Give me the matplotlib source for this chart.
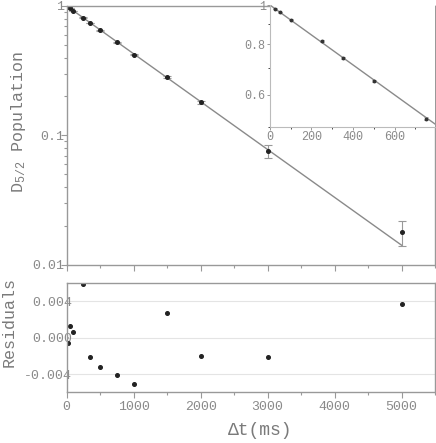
import numpy as np
import matplotlib.pyplot as plt
from matplotlib.ticker import MultipleLocator, FixedLocator, NullFormatter

plt.rcParams['font.family'] = ['Liberation Mono', 'DejaVu Sans Mono']
plt.rcParams['mathtext.default'] = 'regular'

# data
delay_ms = [25, 50, 100, 250, 350, 500, 750, 1000, 1500, 2000, 3000, 5000]
population = [0.9783, 0.9596, 0.9190, 0.8142, 0.7403, 0.6502, 0.5241,
              0.4219, 0.2817, 0.1803, 0.0757, 0.0179]
pop_err = [0.003, 0.003, 0.003, 0.004, 0.004, 0.004, 0.005,
           0.004, 0.004, 0.004, 0.009, 0.0038]
residuals = [-0.0006, 0.0013, 0.0006, 0.0059, -0.0021, -0.0032, -0.0041,
             -0.0051, 0.0027, -0.0020, -0.0021, 0.0037]
tau_fit = 1175.0  # ms, fitted lifetime

gray = '#8a8a8a'
lab_gray = '#7a7a7a'

fig = plt.figure(figsize=(4.36, 4.43), dpi=100)
ax = fig.add_axes([0.153, 0.402, 0.845, 0.5845])
axr = fig.add_axes([0.153, 0.1145, 0.845, 0.2465])
axi = fig.add_axes([0.619, 0.7133, 0.379, 0.2754])

t_fit = np.linspace(0, 5000, 400)

# main panel
ax.plot(t_fit, np.exp(-t_fit / tau_fit), color=gray, lw=1.0)
ax.errorbar(delay_ms, population, yerr=pop_err, fmt='o', ms=2.6, color='#222222',
            ecolor='#999999', elinewidth=0.8, capsize=3, capthick=0.8)
ax.set_yscale('log')
ax.set_ylim(0.01, 1)
ax.set_xlim(0, 5500)
ax.xaxis.set_major_locator(MultipleLocator(1000))
ax.xaxis.set_minor_locator(MultipleLocator(500))
ax.xaxis.set_major_formatter(NullFormatter())
ax.set_yticks([0.01, 0.1, 1])
ax.set_yticklabels(['0.01', '0.1', '1'])
ax.set_ylabel('D$_{5/2}$ Population', fontsize=12, color=lab_gray)
ax.yaxis.set_label_coords(-0.105, 0.55)

# residuals panel
axr.plot(delay_ms, residuals, 'o', ms=2.6, color='#222222')
axr.set_xlim(0, 5500)
axr.set_ylim(-0.006, 0.006)
axr.set_yticks([-0.004, 0.0, 0.004])
axr.set_yticklabels(['-0.004', '0.000', '0.004'])
axr.grid(axis='y', color='#e4e4e4', lw=0.8)
axr.xaxis.set_major_locator(MultipleLocator(1000))
axr.xaxis.set_minor_locator(MultipleLocator(500))
axr.set_ylabel('Residuals', fontsize=12, color=lab_gray)
axr.yaxis.set_label_coords(-0.135, 0.64)
axr.set_xlabel('Δt(ms)', fontsize=13, color=lab_gray)
axr.xaxis.set_label_coords(0.525, -0.27)

# inset
t_in = np.linspace(0, 800, 100)
axi.plot(t_in, np.exp(-t_in / tau_fit), color=gray, lw=1.0)
axi.errorbar(delay_ms, population, yerr=pop_err, fmt='o', ms=1.8, color='#333333',
             ecolor='#999999', elinewidth=0.7, capsize=1.5, capthick=0.7)
axi.set_yscale('log')
axi.set_xlim(0, 795)
axi.set_ylim(0.5, 1.0)
axi.xaxis.set_major_locator(MultipleLocator(200))
axi.xaxis.set_minor_locator(MultipleLocator(100))
axi.yaxis.set_major_locator(FixedLocator([0.6, 0.8, 1.0]))
axi.yaxis.set_minor_locator(FixedLocator([0.5, 0.7, 0.9]))
axi.set_yticklabels(['0.6', '0.8', '1'])
axi.yaxis.set_minor_formatter(NullFormatter())
axi.tick_params(labelsize=8.5, colors=gray, labelcolor=gray, length=2, width=0.6, pad=1)
axi.tick_params(which='minor', length=1.5, width=0.5)
for s in ['top', 'right']:
    axi.spines[s].set_visible(False)
for s in ['left', 'bottom']:
    axi.spines[s].set_color('#bbbbbb')
    axi.spines[s].set_linewidth(0.8)

for a in (ax, axr):
    for s in a.spines.values():
        s.set_color('#999999')
        s.set_linewidth(1.0)
    a.tick_params(which='both', colors='#999999', labelcolor=gray, labelsize=9.5,
                  direction='out', width=0.8)
    a.tick_params(which='major', length=4, pad=-2)
    a.tick_params(which='minor', length=2)

axr.tick_params(axis='x', which='major', pad=2)
axr.tick_params(axis='y', length=0, pad=-4)

fig.savefig('out.png', dpi=100)
